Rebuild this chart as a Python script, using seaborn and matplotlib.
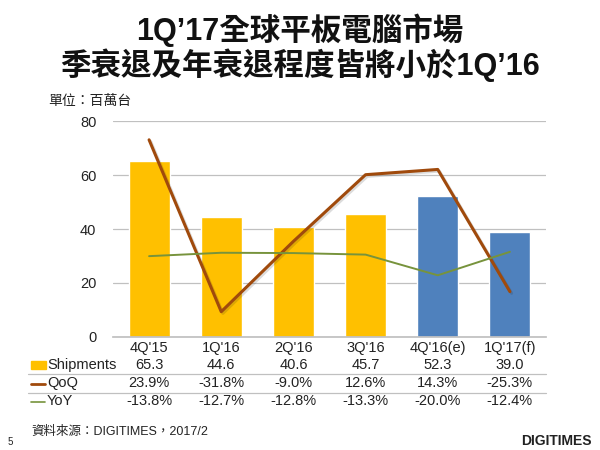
import matplotlib
matplotlib.use("Agg")
import matplotlib.pyplot as plt
import matplotlib.patheffects as pe
from matplotlib.lines import Line2D
from matplotlib.transforms import blended_transform_factory
import seaborn as sns
import pandas as pd

quarters = ["4Q'15", "1Q'16", "2Q'16", "3Q'16", "4Q'16(e)", "1Q'17(f)"]
shipments = [65.3, 44.6, 40.6, 45.7, 52.3, 39.0]
qoq = [23.9, -31.8, -9.0, 12.6, 14.3, -25.3]
yoy = [-13.8, -12.7, -12.8, -13.3, -20.0, -12.4]
is_forecast = [False, False, False, False, True, True]

df = pd.DataFrame({"quarter": quarters, "shipments": shipments,
                   "qoq": qoq, "yoy": yoy, "forecast": is_forecast})

sns.set_theme(style="white")
fonts = ["Liberation Sans", "Noto Sans CJK TC", "DejaVu Sans"]
plt.rcParams["font.family"] = fonts

gold, blue = "#FFC000", "#4F81BD"
brown, green = "#A04A0C", "#77933C"

fig = plt.figure(figsize=(6, 4.5), dpi=100)
ax = fig.add_axes([113 / 600, 113 / 450, 433 / 600, 216 / 450])

sns.barplot(data=df, x="quarter", y="shipments", hue="forecast",
            palette={False: gold, True: blue}, dodge=False, width=0.57,
            saturation=1, legend=False, ax=ax, zorder=2)
ax.set_ylim(0, 80)
ax.set_yticks([0, 20, 40, 60, 80])
ax.yaxis.grid(True, color="#C0C0C0", linewidth=0.9)
ax.set_axisbelow(True)
for s in ["left", "right", "top"]:
    ax.spines[s].set_visible(False)
ax.spines["bottom"].set_color("#C0C0C0")
ax.tick_params(axis="y", length=0, labelsize=10.5, pad=12, colors="#222222")
ax.tick_params(axis="x", length=0, labelsize=10.5, pad=3, colors="#222222")
ax.set_xlabel("")
ax.set_ylabel("")
ax.set_xlim(-0.5, 5.5)

ax2 = ax.twinx()
sns.lineplot(x=range(len(quarters)), y=qoq, color=brown, linewidth=2.2, ax=ax2,
             path_effects=[pe.SimpleLineShadow(offset=(1.2, -1.2), alpha=0.15),
                           pe.Normal()])
sns.lineplot(x=range(len(quarters)), y=yoy, color=green, linewidth=1.4, ax=ax2)
ax2.set_ylim(-40, 30)
ax2.set_xlim(-0.5, 5.5)
ax2.axis("off")

# data table under the chart
tr = blended_transform_factory(ax.transData, fig.transFigure)
rows = [("Shipments", [f"{v:.1f}" for v in shipments], 365),
        ("QoQ", [f"{v:.1f}%" for v in qoq], 383),
        ("YoY", [f"{v:.1f}%" for v in yoy], 401)]
for name, vals, ypx in rows:
    y = 1 - ypx / 450
    for i, v in enumerate(vals):
        fig.text(i, y, v, transform=tr, ha="center", va="center",
                 fontsize=10.5, color="#222222")
    fig.text(47 / 600, y, name, ha="left", va="center", fontsize=10.5,
             color="#222222")

fig.patches.append(plt.Rectangle((31 / 600, 1 - 369 / 450), 15 / 600, 8 / 450,
                                 color=gold, transform=fig.transFigure))
for ypx, col, lw in [(384, brown, 2), (402, green, 1.2)]:
    fig.add_artist(Line2D([31 / 600, 45 / 600], [1 - ypx / 450] * 2,
                          color=col, linewidth=lw))
for ypx in [374, 393]:
    fig.add_artist(Line2D([28 / 600, 546 / 600], [1 - ypx / 450] * 2,
                          color="#C0C0C0", linewidth=0.9))

fig.text(0.5, 1 - 30 / 450, "1Q’17全球平板電腦市場", ha="center", va="center",
         fontsize=22, fontweight="bold", color="#111111")
fig.text(0.5, 1 - 65 / 450, "季衰退及年衰退程度皆將小於1Q’16", ha="center",
         va="center", fontsize=22, fontweight="bold", color="#111111")
fig.text(48 / 600, 1 - 101 / 450, "單位：百萬台", ha="left", va="center",
         fontsize=10, color="#222222")
fig.text(31 / 600, 1 - 432 / 450, "資料來源：DIGITIMES，2017/2", ha="left",
         va="center", fontsize=9, color="#222222")
fig.text(8 / 600, 1 - 442 / 450, "5", ha="left", va="center", fontsize=7,
         color="#222222")
fig.text(592 / 600, 1 - 441 / 450, "DIGITIMES", ha="right", va="center",
         fontsize=10, fontweight="bold", color="#222222")

fig.savefig("out.png", dpi=100)
